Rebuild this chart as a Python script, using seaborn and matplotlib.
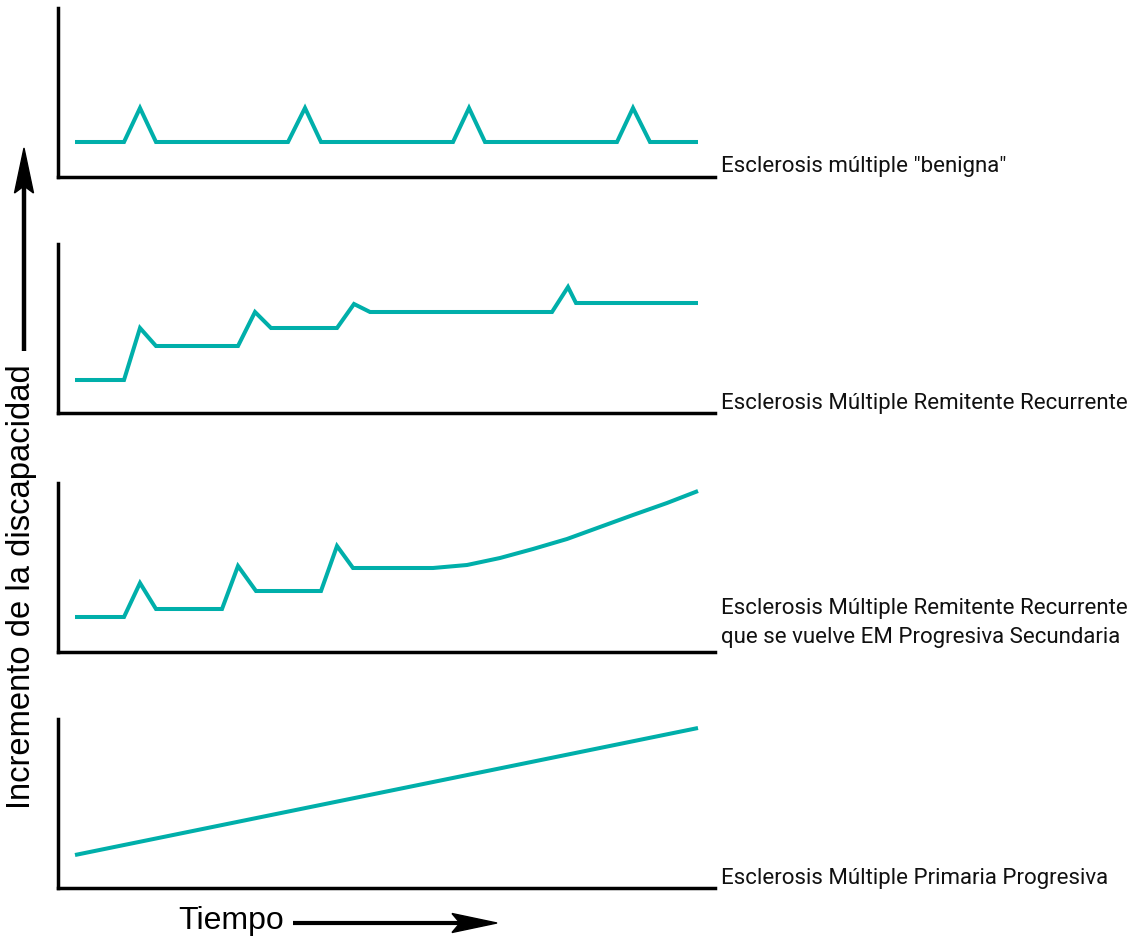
import matplotlib
matplotlib.use("Agg")
import matplotlib.pyplot as plt
import seaborn as sns
import pandas as pd
from matplotlib.patches import Polygon

sns.set_style("white")
plt.rcParams['font.family'] = ['Liberation Sans', 'DejaVu Sans']

# ---- data (time units, disability units) ----
benign_t = [17, 66, 82, 98, 230, 247, 263, 395, 411, 427, 559, 575, 592, 640]
benign_y = [35, 35, 69, 35, 35, 69, 35, 35, 69, 35, 35, 69, 35, 35]

rr_t = [17, 66, 82, 98, 180, 197, 213, 279, 296, 312, 494, 510, 518, 640]
rr_y = [33, 33, 85, 67, 67, 101, 85, 85, 109, 101, 101, 126, 110, 110]

sp_t = [17, 66, 82, 98, 164, 180, 198, 263, 279, 295, 342, 375, 409, 442,
        475, 509, 542, 575, 609, 640]
sp_y = [35, 35, 69, 43, 43, 86, 61, 61, 106, 84, 84, 84, 87, 94,
        103, 113, 125, 137, 149, 161]

pp_t = [17, 640]
pp_y = [33, 160]

series = [(benign_t, benign_y), (rr_t, rr_y), (sp_t, sp_y), (pp_t, pp_y)]
labels = ['Esclerosis múltiple "benigna"',
          'Esclerosis Múltiple Remitente Recurrente',
          'Esclerosis Múltiple Remitente Recurrente\nque se vuelve EM Progresiva Secundaria',
          'Esclerosis Múltiple Primaria Progresiva']
ylabel = 'Incremento de la discapacidad'
xlabel = 'Tiempo'

# ---- layout ----
W, H = 1143, 942
fig = plt.figure(figsize=(W / 100, H / 100), dpi=100)
teal = '#00AFAA'

spine_bottoms = [177, 413, 652, 888]
panel_h = 169
left_px, right_px = 58, 715

for (t, y), yb in zip(series, spine_bottoms):
    ax = fig.add_axes([left_px / W, (H - yb) / H, (right_px - left_px) / W, panel_h / H])
    df = pd.DataFrame({'t': t, 'y': y})
    sns.lineplot(data=df, x='t', y='y', ax=ax, color=teal, linewidth=2.9,
                 sort=False, estimator=None)
    for ln in ax.lines:
        ln.set_solid_joinstyle('miter')
        ln.set_solid_capstyle('butt')
    ax.set_xlim(0, right_px - left_px)
    ax.set_ylim(0, panel_h)
    ax.set_xticks([])
    ax.set_yticks([])
    ax.set_xlabel('')
    ax.set_ylabel('')
    for s in ['top', 'right']:
        ax.spines[s].set_visible(False)
    for s in ['left', 'bottom']:
        ax.spines[s].set_color('black')
        ax.spines[s].set_linewidth(2.5)
    ax.patch.set_alpha(0)

# overlay for text and arrows in pixel coordinates
ov = fig.add_axes([0, 0, 1, 1])
ov.set_xlim(0, W)
ov.set_ylim(H, 0)
ov.axis('off')
ov.patch.set_alpha(0)

narrow = ['Roboto', 'Liberation Sans', 'DejaVu Sans']
label_baselines = [172, 409, 643, 884]
for lab, yb in zip(labels, label_baselines):
    ov.text(721, yb, lab, ha='left', va='baseline', fontsize=16.0,
            family=narrow, color='#111111', linespacing=1.48)

ov.text(22, 587, ylabel, rotation=90, ha='center', va='center',
        fontsize=23.6, color='black')
ov.text(178, 921, xlabel, ha='left', va='center', fontsize=23.0, color='black')

# y arrow
ov.plot([24, 24], [351, 186], color='black', linewidth=3.2, solid_capstyle='butt')
ov.add_patch(Polygon([(24, 148), (33.5, 193), (24, 186), (14.5, 193)],
                     closed=True, color='black'))
# x arrow
ov.plot([293, 462], [923, 923], color='black', linewidth=3.0, solid_capstyle='butt')
ov.add_patch(Polygon([(497, 923), (452, 913.5), (460, 923), (452, 932.5)],
                     closed=True, color='black'))

fig.savefig('out.png', dpi=100)
